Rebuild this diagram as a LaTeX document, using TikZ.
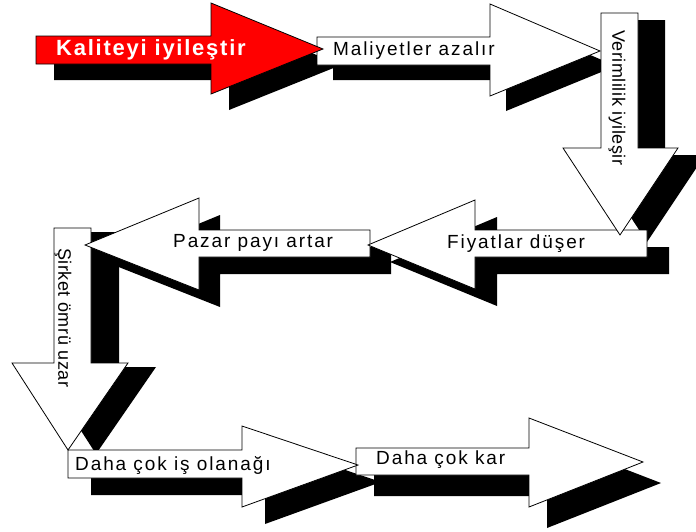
\documentclass[tikz,border=0pt]{standalone}
\usepackage{fontspec}
\setmainfont{Liberation Sans}
\newfontfamily\hlabelfont[LetterSpace=10]{Liberation Sans}
\newfontfamily\vlabelfont[LetterSpace=3]{Liberation Sans}
\newfontfamily\titlefont[LetterSpace=8]{Liberation Sans Bold}

% Block arrow pointing left or right:
% #1 style, #2 tail x, #3 shaft top, #4 shaft bottom, #5 head base x,
% #6 head top, #7 head bottom, #8 tip x, #9 tip y
\newcommand\harrowshape[9]{%
  \path[#1] (#2,#3) -- (#5,#3) -- (#5,#6) -- (#8,#9) -- (#5,#7)
    -- (#5,#4) -- (#2,#4) -- cycle;}
% Block arrow pointing down:
% #1 style, #2 tail y, #3 shaft left, #4 shaft right, #5 head base y,
% #6 head left, #7 head right, #8 tip x, #9 tip y
\newcommand\varrowshape[9]{%
  \path[#1] (#3,#2) -- (#3,#5) -- (#6,#5) -- (#8,#9) -- (#7,#5)
    -- (#4,#5) -- (#4,#2) -- cycle;}

% The eight steps of the chain
\newcommand\stepKalite[1]{\harrowshape{#1}{36}{36}{64}{211}{3}{94}{323}{49}}
\newcommand\stepMaliyet[1]{\harrowshape{#1}{317}{37}{65}{490}{4}{96}{600}{51}}
\newcommand\stepVerim[1]{\varrowshape{#1}{13}{601}{638}{148}{563}{678}{620}{235}}
\newcommand\stepFiyat[1]{\harrowshape{#1}{647}{230}{257}{475}{200}{289}{368}{245}}
\newcommand\stepPazar[1]{\harrowshape{#1}{370}{230}{257}{199}{198}{290}{85}{245}}
\newcommand\stepOmur[1]{\varrowshape{#1}{228}{54}{91}{363}{12}{128}{68}{450}}
\newcommand\stepIs[1]{\harrowshape{#1}{68}{450}{478}{242}{426}{507}{358}{465}}
\newcommand\stepKar[1]{\harrowshape{#1}{356}{448}{475}{529}{418}{507}{643}{462}}

\begin{document}
\begin{tikzpicture}[x=1pt,y=-1pt,
    dropshadow/.style={fill=black},
    whitebox/.style={fill=white,draw=black,line width=0.8pt,line join=miter},
    redbox/.style={fill=red,draw=black,line width=0.8pt,line join=miter},
    hlabel/.style={inner sep=0pt,anchor=west,font=\hlabelfont\fontsize{19}{22}\selectfont},
    vlabel/.style={inner sep=0pt,anchor=west,rotate=-90,font=\vlabelfont\fontsize{18}{21}\selectfont},
    titlelabel/.style={inner sep=0pt,anchor=west,text=white,font=\titlefont\fontsize{22}{25}\selectfont}]
  \useasboundingbox (0,0) rectangle (696,531);

  % shadows under everything
  \stepKalite{dropshadow,shift={(18,16)}}
  \stepMaliyet{dropshadow,shift={(16,15)}}
  \stepVerim{dropshadow,shift={(27,7)}}
  \stepFiyat{dropshadow,shift={(22,17)}}
  \stepPazar{dropshadow,shift={(21,17)}}
  \stepOmur{dropshadow,shift={(28,4)}}
  \stepIs{dropshadow,shift={(23,17)}}
  \stepKar{dropshadow,shift={(18,21)}}

  % arrows, later steps underneath earlier ones
  \stepKar{whitebox}
  \stepIs{whitebox}
  \stepOmur{whitebox}
  \stepPazar{whitebox}
  \stepFiyat{whitebox}
  \stepVerim{whitebox}
  \stepMaliyet{whitebox}
  \stepKalite{redbox}

  % labels
  \node[titlelabel] (kalite) at (56,50) {Kaliteyi iyileştir};
  \node[hlabel] (maliyet) at (333,51) {Maliyetler azalır};
  \node[vlabel] (verim) at (617,30) {Verimlilik iyileşir};
  \node[hlabel] (fiyat) at (447,244) {Fiyatlar düşer};
  \node[hlabel] (pazar) at (173,243) {Pazar payı artar};
  \node[vlabel] (omur) at (63,248) {Şirket ömrü uzar};
  \node[hlabel] (is) at (75,465) {Daha çok iş olanağı};
  \node[hlabel] (kar) at (376,460) {Daha çok kar};
\end{tikzpicture}
\end{document}
